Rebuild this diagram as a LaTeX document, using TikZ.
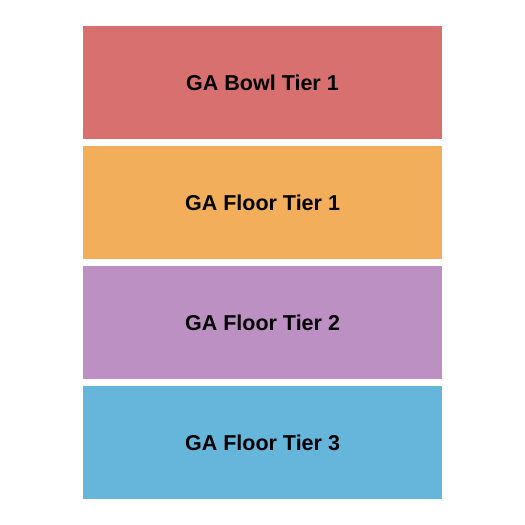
\documentclass[tikz,border=0pt]{standalone}
\usepackage{fontspec}
\setmainfont{Liberation Sans}
\definecolor{cred}{HTML}{D97070}
\definecolor{corange}{HTML}{F2AE5A}
\definecolor{cpurple}{HTML}{BC90C2}
\definecolor{cblue}{HTML}{66B5DB}
\begin{document}
\begin{tikzpicture}[x=1pt,y=-1pt,
  tier/.style={fill=#1,draw=none,minimum width=359pt,minimum height=113pt,inner sep=0pt,
    font=\fontsize{21.5}{25}\selectfont\bfseries,text=black}]
\useasboundingbox[fill=white] (0,0) rectangle (525,525);
\node[tier=cred] (b1) at (262.5,82.5) {GA Bowl Tier 1};
\node[tier=corange] (f1) at (262.5,202.5) {GA Floor Tier 1};
\node[tier=cpurple] (f2) at (262.5,322.5) {GA Floor Tier 2};
\node[tier=cblue] (f3) at (262.5,442.5) {GA Floor Tier 3};
\end{tikzpicture}
\end{document}
